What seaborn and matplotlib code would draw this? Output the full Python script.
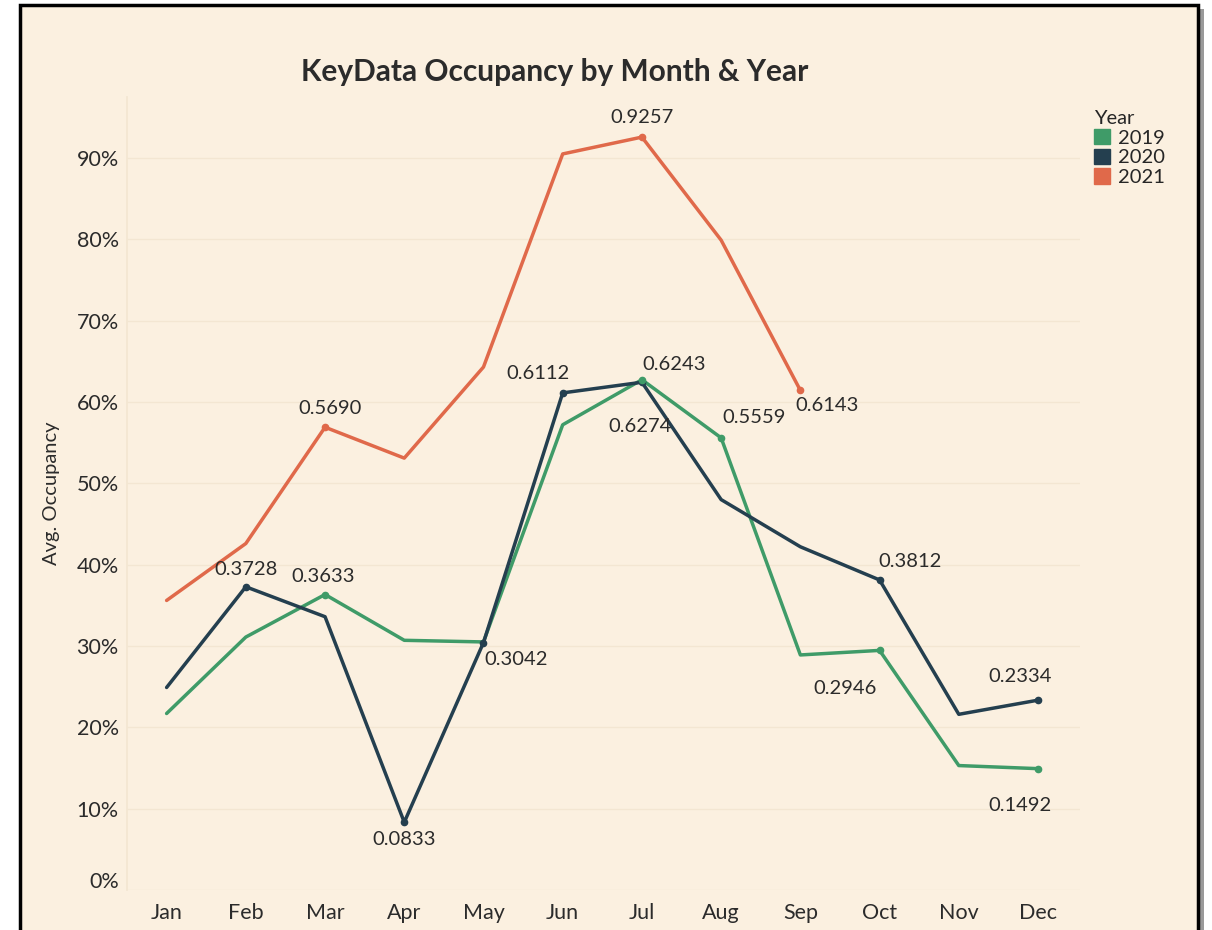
import pandas as pd
import numpy as np
import matplotlib
matplotlib.use("Agg")
import matplotlib.pyplot as plt
import matplotlib.patches as mpatches
import matplotlib.transforms as mtransforms
import seaborn as sns
from matplotlib.ticker import PercentFormatter

months = ["Jan", "Feb", "Mar", "Apr", "May", "Jun", "Jul", "Aug", "Sep", "Oct", "Nov", "Dec"]
occ_2019 = [0.217, 0.311, 0.3633, 0.307, 0.305, 0.572, 0.6274, 0.5559, 0.289, 0.2946, 0.153, 0.1492]
occ_2020 = [0.249, 0.3728, 0.336, 0.0833, 0.3042, 0.6112, 0.6243, 0.480, 0.422, 0.3812, 0.216, 0.2334]
occ_2021 = [0.356, 0.426, 0.5690, 0.531, 0.643, 0.905, 0.9257, 0.799, 0.6143, np.nan, np.nan, np.nan]
years = ["2019", "2020", "2021"]

# labelled points: (year, month) -> label offset in pixels
labels = {
    ("2021", "Jul"): (0, 20), ("2021", "Mar"): (5, 19), ("2021", "Sep"): (27, -15),
    ("2020", "Feb"): (0, 17), ("2019", "Mar"): (-2, 18), ("2020", "Apr"): (0, -17),
    ("2020", "May"): (33, -17), ("2020", "Jun"): (-25, 19), ("2020", "Jul"): (32, 18),
    ("2019", "Jul"): (-2, -47), ("2019", "Aug"): (33, 20), ("2019", "Oct"): (-35, -38),
    ("2020", "Oct"): (30, 18), ("2020", "Dec"): (-18, 24), ("2019", "Dec"): (-18, -37),
}

df = pd.DataFrame({
    "Month": months * 3,
    "Year": [y for y in years for _ in months],
    "Occupancy": occ_2019 + occ_2020 + occ_2021,
})

bg = "#fbf0e0"
palette = {"2019": "#3f9b68", "2020": "#243f4f", "2021": "#e0694a"}
txt = "#2b2b2b"

sns.set_theme(style="white")
plt.rcParams["font.family"] = ["Lato", "DejaVu Sans"]

fig = plt.figure(figsize=(12.12, 9.3), dpi=100, facecolor="white")
# framed card with shadow
fig.patches.append(mpatches.Rectangle((24 / 1212, -0.01), 1180 / 1212, 925 / 930 + 0.01 - 4 / 930,
                                      transform=fig.transFigure, facecolor="#9a9a9a", edgecolor="none", zorder=0))
fig.patches.append(mpatches.Rectangle((20 / 1212, -0.01), 1178 / 1212, 925 / 930 + 0.01,
                                      transform=fig.transFigure, facecolor=bg, edgecolor="black",
                                      linewidth=2.5, zorder=1))

ax = fig.add_axes([127 / 1212, 40 / 930, 953 / 1212, 793 / 930])
ax.set_zorder(5)
ax.patch.set_alpha(0)

sns.lineplot(data=df, x="Month", y="Occupancy", hue="Year", palette=palette, sort=False,
             linewidth=2.5, ax=ax, legend=False)

for (yr, mo), (dx, dy) in labels.items():
    row = df[(df["Year"] == yr) & (df["Month"] == mo)].iloc[0]
    xi = months.index(mo)
    ax.plot(xi, row["Occupancy"], "o", color=palette[yr], markersize=4.5, zorder=3)
    ax.annotate(f"{row['Occupancy']:.4f}", (xi, row["Occupancy"]), xytext=(dx, dy),
                textcoords="offset pixels", ha="center", va="center", fontsize=14.5, color=txt)

ax.set_xlim(-0.5, 11.53)
ax.set_ylim(0, 0.975)
ax.set_yticks(np.arange(0, 1.0, 0.1))
ax.yaxis.set_major_formatter(PercentFormatter(1.0, decimals=0))
ax.grid(axis="y", color="#f3e6d2", linewidth=1)
ax.set_axisbelow(True)
for s in ["top", "right", "bottom"]:
    ax.spines[s].set_visible(False)
ax.spines["left"].set_color("#f3e6d2")
ax.tick_params(axis="both", length=0, labelsize=15.5, colors=txt)
ax.tick_params(axis="y", pad=6)
ax.tick_params(axis="x", pad=9)
ax.set_xlabel("")
ax.set_ylabel("Avg. Occupancy", fontsize=14.5, color=txt, labelpad=12)

# 0% label sits a little above its gridline in the reference
fig.canvas.draw()
zero_lbl = ax.get_yticklabels()[0]
zero_lbl.set_transform(zero_lbl.get_transform() + mtransforms.ScaledTranslation(0, 10 / 100, fig.dpi_scale_trans))

fig.text(555 / 1212, 1 - 72 / 930, "KeyData Occupancy by Month & Year", ha="center", va="center",
         fontsize=21.5, fontweight="bold", color=txt, zorder=6)

handles = [mpatches.Patch(color=palette[y], label=y) for y in years]
leg = fig.legend(handles=handles, title="Year", loc="upper left", bbox_to_anchor=(1086 / 1212, 1 - 102 / 930),
                 frameon=False, fontsize=14.5, title_fontsize=14.5, handlelength=0.8, handleheight=0.8,
                 handletextpad=0.4, labelspacing=0.1, borderaxespad=0)
leg.set_zorder(6)
leg._legend_box.align = "left"

fig.savefig("out.png", dpi=100, facecolor="white")
